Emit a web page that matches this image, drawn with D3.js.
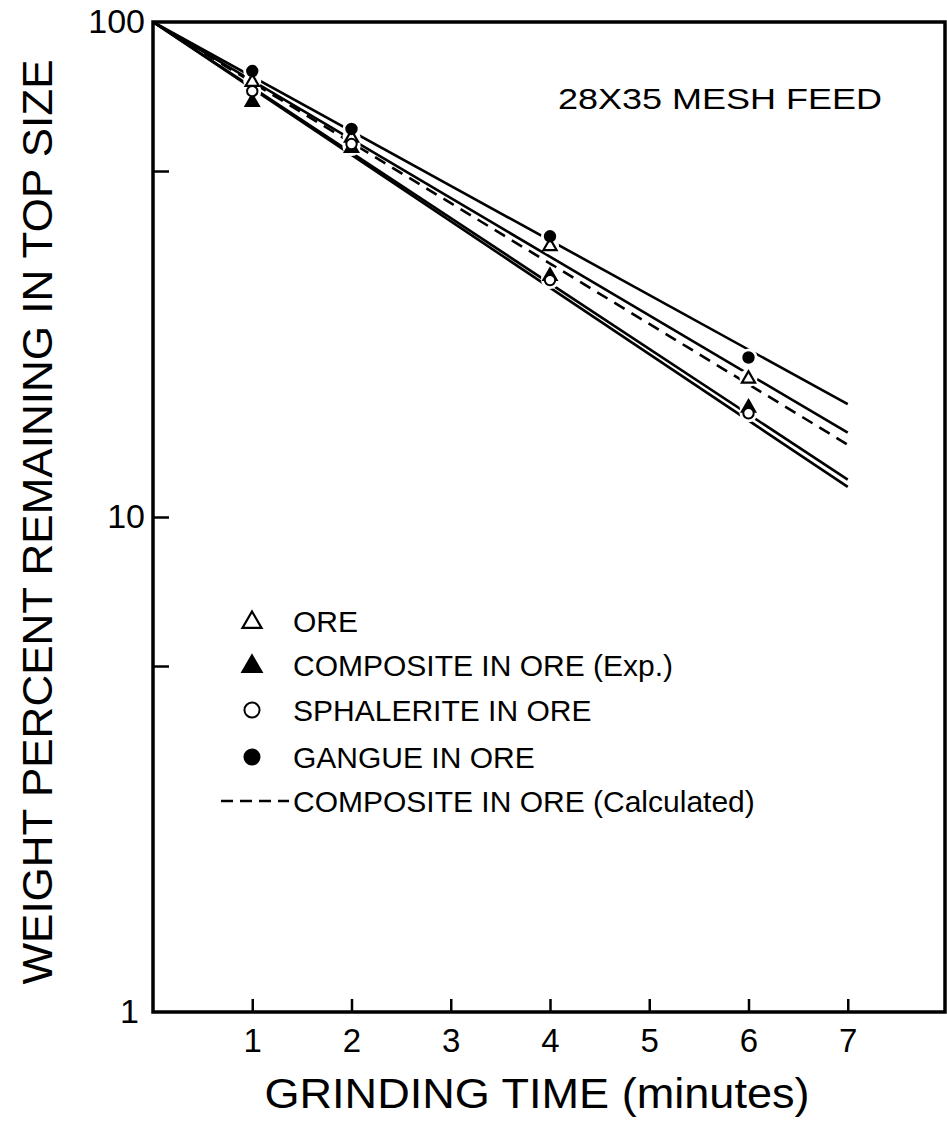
<!DOCTYPE html>
<html>
<head>
<meta charset="utf-8">
<script src="https://cdn.jsdelivr.net/npm/d3@7"></script>
<style>
  body { margin: 0; background: #fff; }
  svg text { font-family: "Liberation Sans", Arial, sans-serif; fill: #000; }
</style>
</head>
<body>
<div id="chart"></div>
<script>
// grinding times (minutes) where samples were taken
const times = [1, 2, 4, 6];

// weight percent remaining in top size
const ore        = [76.0, 58.6, 35.4, 19.1];
const composite  = [69.2, 55.9, 30.8, 16.7];
const sphalerite = [72.5, 56.7, 30.1, 16.2];
const gangue     = [79.6, 60.8, 36.9, 21.0];

// fitted first-order lines: value at t = 0 and at t = 7
const lineTimes  = [0, 7];
const gangueFit  = [100, 16.9];
const oreFit     = [100, 14.8];
const calcFit    = [100, 14.0];
const compFit    = [100, 11.9];
const sphalFit   = [100, 11.5];

const xTicks = [1, 2, 3, 4, 5, 6, 7];
const yTickMarks = [50, 10, 5];
const yTickLabels = [100, 10, 1];

const legendLabels = [
  "ORE",
  "COMPOSITE IN ORE (Exp.)",
  "SPHALERITE IN ORE",
  "GANGUE IN ORE",
  "COMPOSITE IN ORE (Calculated)"
];

const width = 947;
const height = 1125;
const margin = { top: 22, right: 0, bottom: 113, left: 153 };

const svg = d3.select("#chart")
  .append("svg")
  .attr("width", width)
  .attr("height", height);

const x = d3.scaleLinear()
  .domain([0, 8])
  .range([margin.left, width - margin.right]);

const y = d3.scaleLog()
  .domain([1, 100])
  .range([height - margin.bottom, margin.top]);

// frame (right side sits just inside the page edge)
const x0 = x(0), x1 = width - 2, y0 = y(1), y1 = y(100);
svg.append("path")
  .attr("d", `M${x0},${y1}H${x1}V${y0}H${x0}Z`)
  .attr("fill", "none")
  .attr("stroke", "#000")
  .attr("stroke-width", 3.5)
  .attr("stroke-linejoin", "miter");

// x axis: inward ticks
const xAxis = svg.append("g")
  .attr("transform", `translate(0,${y0})`)
  .call(d3.axisBottom(x).tickValues(xTicks).tickSizeInner(-13).tickSizeOuter(0).tickPadding(17).tickFormat(d3.format("d")));
xAxis.select(".domain").remove();
xAxis.selectAll("line").attr("stroke-width", 2.5);
xAxis.selectAll("text").style("font-size", "33px").attr("font-family", null);

// y axis: inward ticks at 50, 10, 5
const yAxis = svg.append("g")
  .attr("transform", `translate(${x0},0)`)
  .call(d3.axisLeft(y).tickValues(yTickMarks).tickSizeInner(-16).tickSizeOuter(0).tickFormat(""));
yAxis.select(".domain").remove();
yAxis.selectAll("line").attr("stroke-width", 2.5);

// y labels 100, 10, 1
const yLab = svg.append("g")
  .attr("transform", `translate(${x0},0)`)
  .call(d3.axisLeft(y).tickValues(yTickLabels).tickSize(0).tickPadding(8).tickFormat(d3.format("d")));
yLab.select(".domain").remove();
yLab.selectAll("text").style("font-size", "34px").attr("font-family", null);
yLab.selectAll(".tick").filter(d => d === 1).select("text").attr("dx", "-6");

// fitted lines
const fits = [
  { v: gangueFit, dash: null },
  { v: oreFit, dash: null },
  { v: calcFit, dash: "12,8" },
  { v: compFit, dash: null },
  { v: sphalFit, dash: null }
];
const line = d3.line().x((d, i) => x(lineTimes[i])).y(d => y(d));
svg.append("g")
  .selectAll("path")
  .data(fits)
  .join("path")
  .attr("d", d => line(d.v))
  .attr("fill", "none")
  .attr("stroke", "#000")
  .attr("stroke-width", 2.6)
  .attr("stroke-dasharray", d => d.dash);

// markers
const series = [
  { v: ore, shape: "tri", fill: "#fff" },
  { v: composite, shape: "tri", fill: "#000" },
  { v: sphalerite, shape: "circ", fill: "#fff" },
  { v: gangue, shape: "circ", fill: "#000" }
];
const pts = series.flatMap(s => s.v.map((v, i) => ({ t: times[i], v, shape: s.shape, fill: s.fill })));

// white gaps where the lines pass the points
svg.append("g")
  .selectAll("circle")
  .data(pts)
  .join("circle")
  .attr("cx", d => x(d.t))
  .attr("cy", d => y(d.v))
  .attr("r", 9)
  .attr("fill", "#fff");

function drawMarker(g, shape, fill, cx, cy, k) {
  if (shape === "tri") {
    g.append("path")
      .attr("d", d3.symbol().type(d3.symbolTriangle).size(75 * k * k)())
      .attr("transform", `translate(${cx},${cy + k})`)
      .attr("fill", fill)
      .attr("stroke", "#000")
      .attr("stroke-width", 2.2)
      .attr("stroke-linejoin", "miter");
  } else {
    g.append("circle")
      .attr("cx", cx)
      .attr("cy", cy)
      .attr("r", 5.2 * k)
      .attr("fill", fill)
      .attr("stroke", "#000")
      .attr("stroke-width", 2);
  }
}

const mk = svg.append("g");
pts.forEach(d => drawMarker(mk, d.shape, d.fill, x(d.t), y(d.v), 1));

// title
svg.append("text")
  .attr("x", 558)
  .attr("y", 109)
  .attr("textLength", 324)
  .attr("lengthAdjust", "spacingAndGlyphs")
  .style("font-size", "29px")
  .text("28X35 MESH FEED");

// legend
const legY = [621, 665, 710, 757, 801];
const leg = svg.append("g");
const legShapes = [["tri", "#fff"], ["tri", "#000"], ["circ", "#fff"], ["circ", "#000"]];
legShapes.forEach((s, i) => drawMarker(leg, s[0], s[1], 252, legY[i], 1.45));
leg.append("line")
  .attr("x1", 221).attr("x2", 289)
  .attr("y1", legY[4]).attr("y2", legY[4])
  .attr("stroke", "#000")
  .attr("stroke-width", 2.6)
  .attr("stroke-dasharray", "12,7");
leg.selectAll("text")
  .data(legendLabels)
  .join("text")
  .attr("x", 293)
  .attr("y", (d, i) => legY[i] + 11)
  .style("font-size", "30px")
  .text(d => d);

// axis titles
svg.append("text")
  .attr("x", 537)
  .attr("y", 1108)
  .attr("text-anchor", "middle")
  .attr("textLength", 545)
  .attr("lengthAdjust", "spacingAndGlyphs")
  .style("font-size", "42px")
  .text("GRINDING TIME (minutes)");

svg.append("text")
  .attr("transform", `translate(52,${522}) rotate(-90)`)
  .attr("text-anchor", "middle")
  .attr("textLength", 925)
  .attr("lengthAdjust", "spacingAndGlyphs")
  .style("font-size", "42px")
  .text("WEIGHT PERCENT REMAINING IN TOP SIZE");
</script>
</body>
</html>
